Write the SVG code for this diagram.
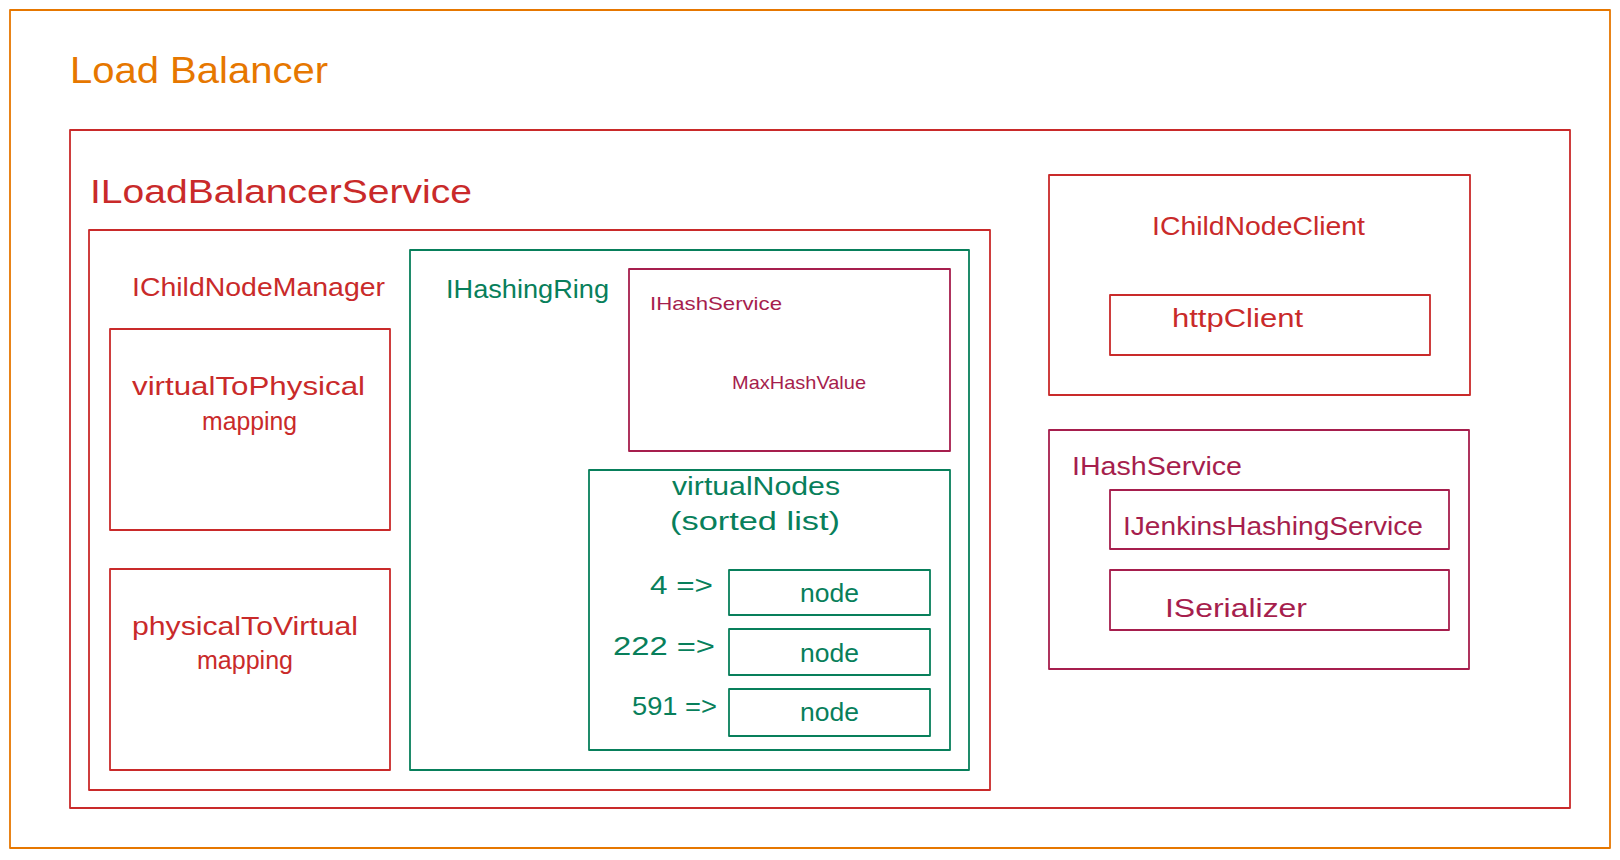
<svg xmlns="http://www.w3.org/2000/svg" width="1620" height="860" viewBox="0 0 1620 860">
<style>
text{font-family:"Liberation Sans","DejaVu Sans",sans-serif;}
.box{fill:none;stroke-width:1.8;stroke-linejoin:round;}
.or{stroke:#e67700;} .rd{stroke:#c92a2a;} .gr{stroke:#087f5b;} .pk{stroke:#a61e4d;}
.tor{fill:#e67700;} .trd{fill:#c92a2a;} .tgr{fill:#087f5b;} .tpk{fill:#a61e4d;}
</style>
<rect width="1620" height="860" fill="#ffffff"/>
<g id="load-balancer">
<rect class="box or" x="10" y="10" width="1600" height="838" stroke-width="2.4"/>
<text class="tor" x="70" y="83" font-size="36" textLength="258" lengthAdjust="spacingAndGlyphs">Load Balancer</text>
</g>
<g id="iloadbalancerservice">
<rect class="box rd" x="70" y="130" width="1500" height="678"/>
<text class="trd" x="90" y="203" font-size="34" textLength="382" lengthAdjust="spacingAndGlyphs">ILoadBalancerService</text>
<rect class="box rd" x="89" y="230" width="901" height="560"/>
</g>
<g id="ichildnodemanager">
<text class="trd" x="132" y="296" font-size="25" textLength="253" lengthAdjust="spacingAndGlyphs">IChildNodeManager</text>
</g>
<g id="virtualtophysical">
<rect class="box rd" x="110" y="329" width="280" height="201"/>
<text class="trd" x="132" y="395" font-size="25" textLength="233" lengthAdjust="spacingAndGlyphs">virtualToPhysical</text>
<text class="trd" x="202" y="430" font-size="25" textLength="95" lengthAdjust="spacingAndGlyphs">mapping</text>
</g>
<g id="physicaltovirtual">
<rect class="box rd" x="110" y="569" width="280" height="201"/>
<text class="trd" x="132" y="635" font-size="25" textLength="226" lengthAdjust="spacingAndGlyphs">physicalToVirtual</text>
<text class="trd" x="197" y="669" font-size="25" textLength="96" lengthAdjust="spacingAndGlyphs">mapping</text>
</g>
<g id="ihashingring">
<rect class="box gr" x="410" y="250" width="559" height="520"/>
<text class="tgr" x="446" y="298" font-size="25" textLength="163" lengthAdjust="spacingAndGlyphs">IHashingRing</text>
</g>
<g id="ihashservice-inner">
<rect class="box pk" x="629" y="269" width="321" height="182"/>
<text class="tpk" x="650" y="310" font-size="19" textLength="132" lengthAdjust="spacingAndGlyphs">IHashService</text>
<text class="tpk" x="732" y="389" font-size="19" textLength="134" lengthAdjust="spacingAndGlyphs">MaxHashValue</text>
</g>
<g id="virtualnodes">
<rect class="box gr" x="589" y="470" width="361" height="280"/>
<text class="tgr" x="672" y="495" font-size="26" textLength="168" lengthAdjust="spacingAndGlyphs">virtualNodes</text>
<text class="tgr" x="670" y="530" font-size="26" textLength="170" lengthAdjust="spacingAndGlyphs">(sorted list)</text>
</g>
<g id="vnode-4">
<text class="tgr" x="650" y="594" font-size="26" textLength="63" lengthAdjust="spacingAndGlyphs">4 =&gt;</text>
<rect class="box gr" x="729" y="570" width="201" height="45"/>
<text class="tgr" x="800" y="602" font-size="26" textLength="59" lengthAdjust="spacingAndGlyphs">node</text>
</g>
<g id="vnode-222">
<text class="tgr" x="613" y="655" font-size="26" textLength="102" lengthAdjust="spacingAndGlyphs">222 =&gt;</text>
<rect class="box gr" x="729" y="629" width="201" height="46"/>
<text class="tgr" x="800" y="662" font-size="26" textLength="59" lengthAdjust="spacingAndGlyphs">node</text>
</g>
<g id="vnode-591">
<text class="tgr" x="632" y="715" font-size="26" textLength="85" lengthAdjust="spacingAndGlyphs">591 =&gt;</text>
<rect class="box gr" x="729" y="689" width="201" height="47"/>
<text class="tgr" x="800" y="721" font-size="26" textLength="59" lengthAdjust="spacingAndGlyphs">node</text>
</g>
<g id="ichildnodeclient">
<rect class="box rd" x="1049" y="175" width="421" height="220"/>
<text class="trd" x="1152" y="235" font-size="26" textLength="213" lengthAdjust="spacingAndGlyphs">IChildNodeClient</text>
</g>
<g id="httpclient">
<rect class="box rd" x="1110" y="295" width="320" height="60"/>
<text class="trd" x="1172" y="327" font-size="26" textLength="131" lengthAdjust="spacingAndGlyphs">httpClient</text>
</g>
<g id="ihashservice-outer">
<rect class="box pk" x="1049" y="430" width="420" height="239"/>
<text class="tpk" x="1072" y="475" font-size="26" textLength="170" lengthAdjust="spacingAndGlyphs">IHashService</text>
</g>
<g id="ijenkinshashingservice">
<rect class="box pk" x="1110" y="490" width="339" height="59"/>
<text class="tpk" x="1123" y="535" font-size="26" textLength="300" lengthAdjust="spacingAndGlyphs">IJenkinsHashingService</text>
</g>
<g id="iserializer">
<rect class="box pk" x="1110" y="570" width="339" height="60"/>
<text class="tpk" x="1165" y="617" font-size="26" textLength="142" lengthAdjust="spacingAndGlyphs">ISerializer</text>
</g>
</svg>
